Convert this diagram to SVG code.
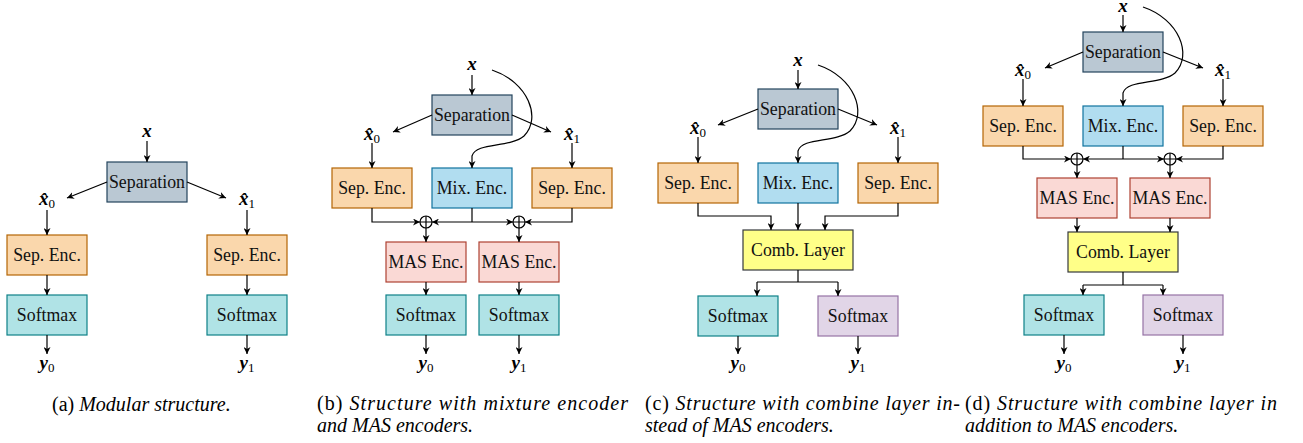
<svg xmlns="http://www.w3.org/2000/svg" width="1303" height="443" viewBox="0 0 1303 443">
  <style>
    text, tspan { font-family: 'Liberation Serif', serif; }
    .bx { stroke-width: 1.2; }
    .sep { fill: #bac8d3; stroke: #23445d; }
    .enc { fill: #fad7ac; stroke: #b46504; }
    .mix { fill: #b1ddf0; stroke: #10739e; }
    .mas { fill: #fad9d5; stroke: #ae4132; }
    .sm  { fill: #b0e3e6; stroke: #0e8088; }
    .smp { fill: #e1d5e7; stroke: #9673a6; }
    .cmb { fill: #ffff88; stroke: #36393d; }
    .lbl { font-size: 17.8px; text-anchor: middle; fill: #111; }
    .m { font-size: 19px; text-anchor: middle; fill: #000; }
    .bi { font-weight: bold; font-style: italic; }
    .sub { font-size: 13px; }
    .ln { fill: none; stroke: #000; stroke-width: 1.2; }
    .a { marker-end: url(#ah); }
    .sum { fill: #fff; stroke: #000; stroke-width: 1.2; }
    .cap { font-size: 20px; fill: #000; }
    .it { font-style: italic; }
  </style>
  <defs>
    <marker id="ah" viewBox="0 0 10 10" refX="10" refY="5" markerWidth="7" markerHeight="7" orient="auto" markerUnits="userSpaceOnUse">
      <path d="M0,0 L10,5 L0,10 L3,5 z" fill="#000"/>
    </marker>
  </defs>

  <!-- ===== (a) modular structure ===== -->
  <g id="a-x"><text style="font-family:'Liberation Serif',serif" class="m" x="147" y="137"><tspan class="bi">x</tspan></text></g>
  <g id="a-separation"><rect class="bx sep" x="107" y="162" width="80" height="40"/><text style="font-family:'Liberation Serif',serif" class="lbl" x="147" y="188">Separation</text></g>
  <g id="a-xhat0"><text style="font-family:'Liberation Serif',serif" class="m" x="47" y="205"><tspan class="bi">x̂</tspan><tspan class="sub" dy="3">0</tspan></text></g>
  <g id="a-xhat1"><text style="font-family:'Liberation Serif',serif" class="m" x="247" y="205"><tspan class="bi">x̂</tspan><tspan class="sub" dy="3">1</tspan></text></g>
  <g id="a-sepenc0"><rect class="bx enc" x="7" y="235" width="80" height="40"/><text style="font-family:'Liberation Serif',serif" class="lbl" x="47" y="261">Sep. Enc.</text></g>
  <g id="a-sepenc1"><rect class="bx enc" x="207" y="235" width="80" height="40"/><text style="font-family:'Liberation Serif',serif" class="lbl" x="247" y="261">Sep. Enc.</text></g>
  <g id="a-softmax0"><rect class="bx sm" x="7" y="295" width="80" height="40"/><text style="font-family:'Liberation Serif',serif" class="lbl" x="47" y="321">Softmax</text></g>
  <g id="a-softmax1"><rect class="bx sm" x="207" y="295" width="80" height="40"/><text style="font-family:'Liberation Serif',serif" class="lbl" x="247" y="321">Softmax</text></g>
  <g id="a-y0"><text style="font-family:'Liberation Serif',serif" class="m" x="47" y="369"><tspan class="bi">y</tspan><tspan class="sub" dy="3">0</tspan></text></g>
  <g id="a-y1"><text style="font-family:'Liberation Serif',serif" class="m" x="247" y="369"><tspan class="bi">y</tspan><tspan class="sub" dy="3">1</tspan></text></g>
  <g id="a-edges">
    <path class="ln a" d="M147,141 V162"/>
    <path class="ln a" d="M107,182 L67,198"/>
    <path class="ln a" d="M187,182 L226,198"/>
    <path class="ln a" d="M47,210 V235"/>
    <path class="ln a" d="M247,210 V235"/>
    <path class="ln a" d="M47,275 V295"/>
    <path class="ln a" d="M247,275 V295"/>
    <path class="ln a" d="M47,335 V354"/>
    <path class="ln a" d="M247,335 V354"/>
  </g>

  <!-- ===== (b) mixture encoder and MAS encoders ===== -->
  <g id="b-x"><text style="font-family:'Liberation Serif',serif" class="m" x="472" y="70"><tspan class="bi">x</tspan></text></g>
  <g id="b-separation"><rect class="bx sep" x="432" y="95" width="80" height="40"/><text style="font-family:'Liberation Serif',serif" class="lbl" x="472" y="121">Separation</text></g>
  <g id="b-xhat0"><text style="font-family:'Liberation Serif',serif" class="m" x="372" y="140"><tspan class="bi">x̂</tspan><tspan class="sub" dy="3">0</tspan></text></g>
  <g id="b-xhat1"><text style="font-family:'Liberation Serif',serif" class="m" x="572" y="140"><tspan class="bi">x̂</tspan><tspan class="sub" dy="3">1</tspan></text></g>
  <g id="b-sepenc0"><rect class="bx enc" x="332" y="168" width="80" height="40"/><text style="font-family:'Liberation Serif',serif" class="lbl" x="372" y="194">Sep. Enc.</text></g>
  <g id="b-mixenc"><rect class="bx mix" x="432" y="168" width="80" height="40"/><text style="font-family:'Liberation Serif',serif" class="lbl" x="472" y="194">Mix. Enc.</text></g>
  <g id="b-sepenc1"><rect class="bx enc" x="532" y="168" width="80" height="40"/><text style="font-family:'Liberation Serif',serif" class="lbl" x="572" y="194">Sep. Enc.</text></g>
  <g id="b-sum0"><circle class="sum" cx="426" cy="222" r="6"/><path class="ln" d="M420,222 H432 M426,216 V228"/></g>
  <g id="b-sum1"><circle class="sum" cx="519" cy="222" r="6"/><path class="ln" d="M513,222 H525 M519,216 V228"/></g>
  <g id="b-masenc0"><rect class="bx mas" x="386" y="242" width="80" height="40"/><text style="font-family:'Liberation Serif',serif" class="lbl" x="426" y="268">MAS Enc.</text></g>
  <g id="b-masenc1"><rect class="bx mas" x="479" y="242" width="80" height="40"/><text style="font-family:'Liberation Serif',serif" class="lbl" x="519" y="268">MAS Enc.</text></g>
  <g id="b-softmax0"><rect class="bx sm" x="386" y="295" width="80" height="40"/><text style="font-family:'Liberation Serif',serif" class="lbl" x="426" y="321">Softmax</text></g>
  <g id="b-softmax1"><rect class="bx sm" x="479" y="295" width="80" height="40"/><text style="font-family:'Liberation Serif',serif" class="lbl" x="519" y="321">Softmax</text></g>
  <g id="b-y0"><text style="font-family:'Liberation Serif',serif" class="m" x="426" y="369"><tspan class="bi">y</tspan><tspan class="sub" dy="3">0</tspan></text></g>
  <g id="b-y1"><text style="font-family:'Liberation Serif',serif" class="m" x="519" y="369"><tspan class="bi">y</tspan><tspan class="sub" dy="3">1</tspan></text></g>
  <g id="b-edges">
    <path class="ln a" d="M472,75 V95"/>
    <path class="ln a" d="M432,115 L393,132"/>
    <path class="ln a" d="M512,115 L551,132"/>
    <path class="ln a" d="M372,143 V168"/>
    <path class="ln a" d="M572,143 V168"/>
    <path class="ln a" d="M492,70 C528,82 542,118 524,136 C510,148 476,142 472,156 L472,168"/>
    <path class="ln a" d="M372,208 V222 H420"/>
    <path class="ln" d="M472,208 V222"/>
    <path class="ln a" d="M472,222 H432"/>
    <path class="ln a" d="M472,222 H513"/>
    <path class="ln a" d="M572,208 V222 H525"/>
    <path class="ln a" d="M426,228 V242"/>
    <path class="ln a" d="M519,228 V242"/>
    <path class="ln a" d="M426,282 V295"/>
    <path class="ln a" d="M519,282 V295"/>
    <path class="ln a" d="M426,335 V354"/>
    <path class="ln a" d="M519,335 V354"/>
  </g>

  <!-- ===== (c) combine layer instead of MAS encoders ===== -->
  <g id="c-x"><text style="font-family:'Liberation Serif',serif" class="m" x="798" y="66"><tspan class="bi">x</tspan></text></g>
  <g id="c-separation"><rect class="bx sep" x="758" y="89" width="80" height="40"/><text style="font-family:'Liberation Serif',serif" class="lbl" x="798" y="115">Separation</text></g>
  <g id="c-xhat0"><text style="font-family:'Liberation Serif',serif" class="m" x="698" y="134"><tspan class="bi">x̂</tspan><tspan class="sub" dy="3">0</tspan></text></g>
  <g id="c-xhat1"><text style="font-family:'Liberation Serif',serif" class="m" x="898" y="134"><tspan class="bi">x̂</tspan><tspan class="sub" dy="3">1</tspan></text></g>
  <g id="c-sepenc0"><rect class="bx enc" x="658" y="163" width="80" height="40"/><text style="font-family:'Liberation Serif',serif" class="lbl" x="698" y="189">Sep. Enc.</text></g>
  <g id="c-mixenc"><rect class="bx mix" x="758" y="163" width="80" height="40"/><text style="font-family:'Liberation Serif',serif" class="lbl" x="798" y="189">Mix. Enc.</text></g>
  <g id="c-sepenc1"><rect class="bx enc" x="858" y="163" width="80" height="40"/><text style="font-family:'Liberation Serif',serif" class="lbl" x="898" y="189">Sep. Enc.</text></g>
  <g id="c-comb"><rect class="bx cmb" x="743" y="230" width="110" height="40"/><text style="font-family:'Liberation Serif',serif" class="lbl" x="798" y="256">Comb. Layer</text></g>
  <g id="c-softmax0"><rect class="bx sm" x="698" y="296" width="80" height="40"/><text style="font-family:'Liberation Serif',serif" class="lbl" x="738" y="322">Softmax</text></g>
  <g id="c-softmax1"><rect class="bx smp" x="818" y="296" width="80" height="40"/><text style="font-family:'Liberation Serif',serif" class="lbl" x="858" y="322">Softmax</text></g>
  <g id="c-y0"><text style="font-family:'Liberation Serif',serif" class="m" x="738" y="369"><tspan class="bi">y</tspan><tspan class="sub" dy="3">0</tspan></text></g>
  <g id="c-y1"><text style="font-family:'Liberation Serif',serif" class="m" x="858" y="369"><tspan class="bi">y</tspan><tspan class="sub" dy="3">1</tspan></text></g>
  <g id="c-edges">
    <path class="ln a" d="M798,70 V89"/>
    <path class="ln a" d="M758,109 L718,125"/>
    <path class="ln a" d="M838,109 L877,125"/>
    <path class="ln a" d="M698,137 V163"/>
    <path class="ln a" d="M898,137 V163"/>
    <path class="ln a" d="M818,65 C854,77 868,113 850,131 C836,143 802,137 798,151 L798,163"/>
    <path class="ln a" d="M698,203 V216 H771 V230"/>
    <path class="ln a" d="M798,203 V230"/>
    <path class="ln a" d="M898,203 V216 H825 V230"/>
    <path class="ln" d="M798,270 V282 M757,282 H838"/>
    <path class="ln a" d="M757,282 V296"/>
    <path class="ln a" d="M838,282 V296"/>
    <path class="ln a" d="M738,336 V354"/>
    <path class="ln a" d="M858,336 V354"/>
  </g>

  <!-- ===== (d) combine layer in addition to MAS encoders ===== -->
  <g id="d-x"><text style="font-family:'Liberation Serif',serif" class="m" x="1123" y="12"><tspan class="bi">x</tspan></text></g>
  <g id="d-separation"><rect class="bx sep" x="1083" y="32" width="80" height="40"/><text style="font-family:'Liberation Serif',serif" class="lbl" x="1123" y="58">Separation</text></g>
  <g id="d-xhat0"><text style="font-family:'Liberation Serif',serif" class="m" x="1023" y="76"><tspan class="bi">x̂</tspan><tspan class="sub" dy="3">0</tspan></text></g>
  <g id="d-xhat1"><text style="font-family:'Liberation Serif',serif" class="m" x="1223" y="76"><tspan class="bi">x̂</tspan><tspan class="sub" dy="3">1</tspan></text></g>
  <g id="d-sepenc0"><rect class="bx enc" x="983" y="106" width="80" height="40"/><text style="font-family:'Liberation Serif',serif" class="lbl" x="1023" y="132">Sep. Enc.</text></g>
  <g id="d-mixenc"><rect class="bx mix" x="1083" y="106" width="80" height="40"/><text style="font-family:'Liberation Serif',serif" class="lbl" x="1123" y="132">Mix. Enc.</text></g>
  <g id="d-sepenc1"><rect class="bx enc" x="1183" y="106" width="80" height="40"/><text style="font-family:'Liberation Serif',serif" class="lbl" x="1223" y="132">Sep. Enc.</text></g>
  <g id="d-sum0"><circle class="sum" cx="1077" cy="159" r="6"/><path class="ln" d="M1071,159 H1083 M1077,153 V165"/></g>
  <g id="d-sum1"><circle class="sum" cx="1170" cy="159" r="6"/><path class="ln" d="M1164,159 H1176 M1170,153 V165"/></g>
  <g id="d-masenc0"><rect class="bx mas" x="1037" y="178" width="80" height="40"/><text style="font-family:'Liberation Serif',serif" class="lbl" x="1077" y="204">MAS Enc.</text></g>
  <g id="d-masenc1"><rect class="bx mas" x="1130" y="178" width="80" height="40"/><text style="font-family:'Liberation Serif',serif" class="lbl" x="1170" y="204">MAS Enc.</text></g>
  <g id="d-comb"><rect class="bx cmb" x="1068" y="232" width="110" height="40"/><text style="font-family:'Liberation Serif',serif" class="lbl" x="1123" y="258">Comb. Layer</text></g>
  <g id="d-softmax0"><rect class="bx sm" x="1024" y="295" width="80" height="40"/><text style="font-family:'Liberation Serif',serif" class="lbl" x="1064" y="321">Softmax</text></g>
  <g id="d-softmax1"><rect class="bx smp" x="1143" y="295" width="80" height="40"/><text style="font-family:'Liberation Serif',serif" class="lbl" x="1183" y="321">Softmax</text></g>
  <g id="d-y0"><text style="font-family:'Liberation Serif',serif" class="m" x="1064" y="369"><tspan class="bi">y</tspan><tspan class="sub" dy="3">0</tspan></text></g>
  <g id="d-y1"><text style="font-family:'Liberation Serif',serif" class="m" x="1183" y="369"><tspan class="bi">y</tspan><tspan class="sub" dy="3">1</tspan></text></g>
  <g id="d-edges">
    <path class="ln a" d="M1123,15 V32"/>
    <path class="ln a" d="M1083,52 L1045,68"/>
    <path class="ln a" d="M1163,52 L1203,68"/>
    <path class="ln a" d="M1023,79 V106"/>
    <path class="ln a" d="M1223,79 V106"/>
    <path class="ln a" d="M1143,7 C1179,19 1193,55 1175,73 C1161,85 1127,79 1123,93 L1123,106"/>
    <path class="ln a" d="M1023,146 V159 H1071"/>
    <path class="ln" d="M1123,146 V159"/>
    <path class="ln a" d="M1123,159 H1083"/>
    <path class="ln a" d="M1123,159 H1164"/>
    <path class="ln a" d="M1223,146 V159 H1176"/>
    <path class="ln a" d="M1077,165 V178"/>
    <path class="ln a" d="M1170,165 V178"/>
    <path class="ln a" d="M1077,218 V232"/>
    <path class="ln a" d="M1170,218 V232"/>
    <path class="ln" d="M1123,272 V285 M1083,285 H1163"/>
    <path class="ln a" d="M1083,285 V295"/>
    <path class="ln a" d="M1163,285 V295"/>
    <path class="ln a" d="M1064,335 V354"/>
    <path class="ln a" d="M1183,335 V354"/>
  </g>

  <!-- ===== sub-captions ===== -->
  <g id="captions">
    <text style="font-family:'Liberation Serif',serif" class="cap" x="52" y="411">(a) <tspan class="it">Modular structure.</tspan></text>
    <text style="font-family:'Liberation Serif',serif" class="cap" x="317" y="410" textLength="311" lengthAdjust="spacing">(b) <tspan class="it">Structure with mixture encoder</tspan></text>
    <text style="font-family:'Liberation Serif',serif" class="cap it" x="317" y="432">and MAS encoders.</text>
    <text style="font-family:'Liberation Serif',serif" class="cap" x="645" y="410" textLength="315" lengthAdjust="spacing">(c) <tspan class="it">Structure with combine layer in-</tspan></text>
    <text style="font-family:'Liberation Serif',serif" class="cap it" x="645" y="432">stead of MAS encoders.</text>
    <text style="font-family:'Liberation Serif',serif" class="cap" x="965" y="410" textLength="312" lengthAdjust="spacing">(d) <tspan class="it">Structure with combine layer in</tspan></text>
    <text style="font-family:'Liberation Serif',serif" class="cap it" x="965" y="432">addition to MAS encoders.</text>
  </g>
</svg>
